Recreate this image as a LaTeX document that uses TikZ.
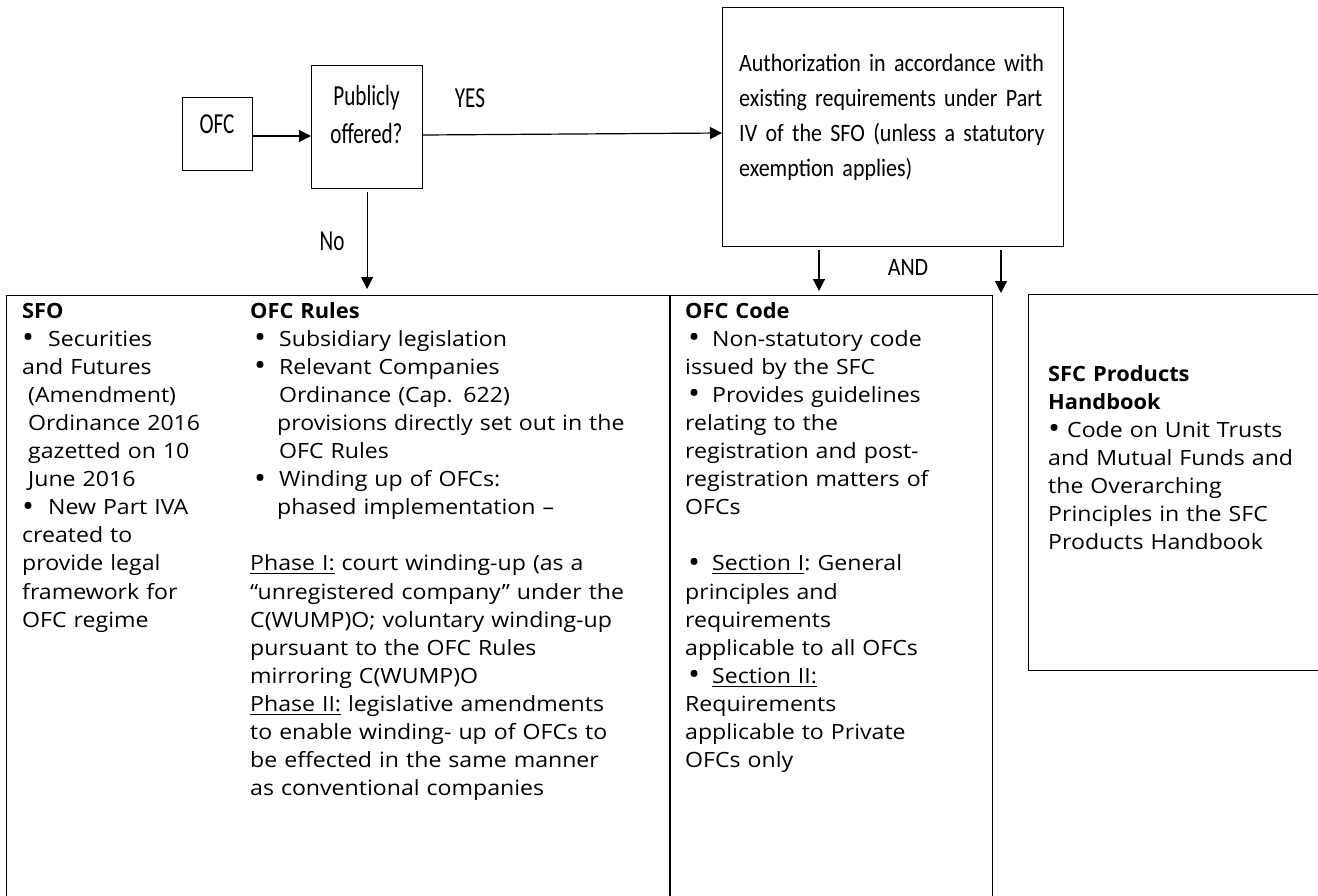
\documentclass[tikz,border=0pt]{standalone}
\usepackage{fontspec}
\usetikzlibrary{arrows.meta,calc}
\setmainfont{Open Sans}[FakeStretch=1.1]
\newfontfamily\hb{Open Sans Bold}[FakeStretch=1.04]
\newfontfamily\calN{Carlito}[FakeStretch=0.73]
\newfontfamily\calW{Carlito}[FakeStretch=0.88,WordSpace=0.8]
\newcommand\ulx[1]{\leavevmode\setbox0\hbox{#1}\rlap{\rule[-3.5pt]{\wd0}{1.3pt}}#1}
\newcommand\hd[1]{{\hb\fontsize{21}{28.1}\selectfont #1}}
\newcommand\bul{\raisebox{-1.5pt}{\fontsize{29}{28}\selectfont •}}
\begin{document}
\begin{tikzpicture}[x=1pt,y=-1pt,
  box/.style={draw=black, line width=1.2pt, inner sep=0pt, anchor=north west},
  arr/.style={line width=1.2pt, -{Triangle[length=12pt,width=12pt]}},
  body/.style={anchor=base west, inner sep=0pt, align=left, text width=420pt,
    font=\fontsize{21}{28.1}\selectfont},
  topn/.style={anchor=base, inner sep=0pt, align=center, font=\calN\fontsize{29}{38}\selectfont},
  topw/.style={anchor=base west, inner sep=0pt, align=left, text width=330pt,
    font=\calW\fontsize{25}{35}\selectfont}]
\clip (0,0) rectangle (1318,895);
\fill[white] (0,0) rectangle (1318,895);
% boxes
\node[box, minimum width=70pt, minimum height=73pt] (ofc) at (182,97) {};
\node[box, minimum width=111pt, minimum height=123pt] (po) at (311,65) {};
\node[box, minimum width=341pt, minimum height=239pt] (auth) at (722,7) {};
\node[box, minimum width=986pt, minimum height=700pt] (main) at (6,295) {};
\node[box, minimum width=400pt, minimum height=376pt] (prod) at (1028,294) {};
\draw[line width=1.2pt] (main.north -| 670,0) -- (main.south -| 670,0);
% top texts
\node[topn] (tofc) at (217,133) {OFC};
\node[topn] (tpo) at (366.5,143) {Publicly\\offered?};
\node[topn] (tyes) at (470,107) {YES};
\node[topn] (tno) at (332,250) {No};
\node[topw] (tauth) at (739,71) {\mbox{Authorization in accordance with}\\\mbox{existing requirements under Part}\\\mbox{IV of the SFO (unless a statutory}\\\mbox{exemption applies)}};
\node[anchor=base, inner sep=0pt, font=\calW\fontsize{25}{35}\selectfont] (tand) at (908,275) {AND};
% arrows
\draw[arr] (ofc.east |- 0,136) -- (po.west |- 0,136);
\draw[arr] (po.east |- 0,135) -- (auth.west |- 0,133);
\draw[arr] ($(po.south)+(0,3)$) -- ($(po.south |- main.north)+(0,-6)$);
\draw[arr] ($(auth.south -| 819,0)+(0,3)$) -- ($(main.north -| 819,0)+(0,-4)$);
\draw[arr] ($(auth.south -| 1001,0)+(0,3)$) -- ($(prod.north -| 1001,0)+(0,-1)$);
% body texts
\node[body] (sfo) at (22,318) {\hd{SFO}\\
\makebox[26pt][l]{\bul}Securities\\
and Futures\\
\hspace*{6pt}(Amendment)\\
\hspace*{6pt}Ordinance 2016\\
\hspace*{6pt}gazetted on 10\\
\hspace*{6pt}June 2016\\
\makebox[26pt][l]{\bul}New Part IVA\\
created to\\
provide legal\\
framework for\\
OFC regime};
\node[body] (rules) at (250,318) {\hd{OFC Rules}\\
\hspace*{4pt}\makebox[25pt][l]{\bul}Subsidiary legislation\\
\hspace*{4pt}\makebox[25pt][l]{\bul}Relevant Companies\\
\hspace*{29pt}Ordinance (Cap. 622)\\
\hspace*{27pt}provisions directly set out in the\\
\hspace*{29pt}OFC Rules\\
\hspace*{4pt}\makebox[25pt][l]{\bul}Winding up of OFCs:\\
\hspace*{27pt}phased implementation –\\
\mbox{}\\
\ulx{Phase I:} court winding-up (as a\\
“unregistered company” under the\\
C(WUMP)O; voluntary winding-up\\
pursuant to the OFC Rules\\
mirroring C(WUMP)O\\
\ulx{Phase II:} legislative amendments\\
to enable winding- up of OFCs to\\
be effected in the same manner\\
as conventional companies};
\node[body] (code) at (685,318) {\hd{OFC Code}\\
\hspace*{3pt}\makebox[24pt][l]{\bul}Non-statutory code\\
issued by the SFC\\
\hspace*{3pt}\makebox[24pt][l]{\bul}Provides guidelines\\
relating to the\\
registration and post-\\
registration matters of\\
OFCs\\
\mbox{}\\
\hspace*{3pt}\makebox[24pt][l]{\bul}\ulx{Section I}: General\\
principles and\\
requirements\\
applicable to all OFCs\\
\hspace*{3pt}\makebox[24pt][l]{\bul}\ulx{Section II:}\\
Requirements\\
applicable to Private\\
OFCs only};
\node[body] (ph) at (1048,381) {\hd{SFC Products}\\
\hd{Handbook}\\
\makebox[19pt][l]{\bul}Code on Unit Trusts\\
and Mutual Funds and\\
the Overarching\\
Principles in the SFC\\
Products Handbook};
\end{tikzpicture}
\end{document}
